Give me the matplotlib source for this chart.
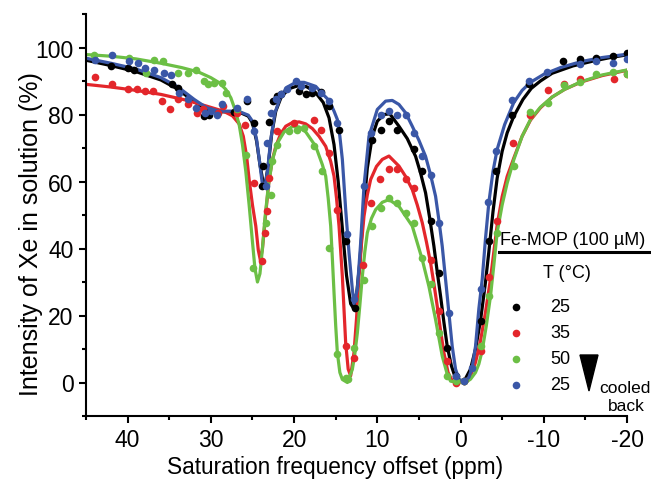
import numpy as np
import matplotlib
matplotlib.use('Agg')
import matplotlib.pyplot as plt
from matplotlib.lines import Line2D
from matplotlib.patches import Polygon

plt.rcParams['font.family'] = ['Liberation Sans', 'DejaVu Sans']
plt.rcParams['axes.unicode_minus'] = False

# ---- fitted curves (ppm, %) ----
black_fit_x = [45, 42, 39, 36, 34, 32, 30.5, 29, 27.5, 26.5, 25.5, 25, 24.5, 24.1, 23.7, 23.4, 23.1,
               22.7, 22.2, 21.5, 20.5, 19.5, 18.5, 17.5, 16.5, 15.8, 15.2, 14.7, 14.2, 13.7, 13.2,
               12.9, 12.5, 12.1, 11.7, 11.2, 10.6, 10, 9.2, 8.5, 7.4, 6.4, 5.4, 4.8, 4.2, 3.7, 3.2,
               2.8, 2.4, 2.0, 1.6, 1.1, 0.6, 0, -0.6, -1.2, -1.8, -2.4, -3.0, -3.4, -3.9, -4.4,
               -5.0, -5.6, -6.4, -7.5, -8.5, -9.6, -11, -13.5, -16, -18, -20]
black_fit_y = [96.2, 94.6, 92.8, 90.3, 87.6, 83.8, 81.5, 80.8, 80.8, 80.6, 79.5, 77.5, 72, 65, 59.5, 60, 65,
               74, 81, 85.5, 87.8, 88.6, 88.3, 86.8, 83.6, 79, 71, 60, 46, 32, 23.5,
               22.3, 26, 36, 50, 64, 73.5, 78, 80, 80.2, 76.5, 72.8, 67.5, 62.5, 56.6, 49, 40.7,
               33, 25.8, 18, 10.8, 5, 1.2, 0, 1.2, 4, 10, 18.5, 30, 39, 51, 61,
               69, 74.5, 79.5, 84.5, 87.8, 90, 92.3, 94.5, 96, 97, 97.8]

red_fit_x = [45, 42, 39, 36, 33, 30.5, 28.5, 27.4, 26.6, 26.1, 25.7, 25.4, 25.0, 24.6, 24.3, 24.05,
             23.8, 23.4, 23.0, 22.6, 22.2, 21.6, 21.0, 20.2, 19.4, 18.6, 17.8, 17.0, 16.2, 15.6,
             15.2, 14.9, 14.6, 14.2, 13.8, 13.5, 13.2, 12.8, 12.5, 12.2, 11.9, 11.6, 11.2, 10.8,
             10.1, 9.4, 8.6, 7.4, 6.6, 5.8, 5.2, 4.6, 4.1, 3.6, 3.2, 2.8, 2.4, 2.0, 1.5, 1.0, 0.2,
             -0.6, -1.2, -1.8, -2.4, -3.0, -3.6, -4.0, -4.4, -5.0, -5.6, -6.4, -7.4, -8.4, -9.6,
             -11, -12.5, -14.5, -17, -20]
red_fit_y = [89, 88.2, 87.2, 86, 84.3, 82.5, 81, 79.6, 77.2, 73.5, 67.5, 60.6, 53, 46.7, 39.5, 36.5,
             40, 50.6, 60.6, 66.5, 70.5, 74.3, 76.5, 77.6, 77.8, 77.2, 75.8, 73.5, 70.5, 66,
             61.6, 55, 46.7, 31.7, 11.8, 4, 2, 8.9, 19, 31.7, 41.5, 49.6, 56, 60.6,
             64.5, 66.6, 67.6, 64.6, 61.5, 57.6, 53, 47.7, 42, 35.7, 29.5, 22.8, 15.5, 8.9, 3, 0.5, 0,
             0.2, 2, 6, 12.5, 21, 31, 39, 47, 55.5, 61.5, 67, 73.5, 78.3, 82,
             85.2, 87.5, 89.7, 91.6, 93.2]

green_fit_x = [45, 42, 39, 36, 33.5, 31.5, 30, 29, 28.2, 27.6, 27.1, 26.6, 26.2, 25.8, 25.4, 25.0,
               24.7, 24.4, 24.1, 23.8, 23.5, 23.1, 22.6, 22.0, 21.2, 20.2, 19.4, 18.6, 17.4, 16.6,
               16.2, 15.9, 15.6, 15.4, 15.2, 15.0, 14.8, 14.5, 14.2, 13.6, 13.0, 12.7, 12.4, 12.1,
               11.8, 11.5, 11.2, 10.7, 10.2, 9.4, 8.6, 7.4, 5.8, 4.6, 3.8, 3.0, 2.2, 1.6, 1.2, 0.3,
               -0.6, -1.2, -1.8, -2.2, -2.6, -3.1, -3.6, -4.0, -4.4, -5.0, -5.6, -6.4, -7.4, -8.4,
               -9.6, -11, -12.5, -14.5, -17, -20]
green_fit_y = [97.9, 97.4, 96.6, 95.3, 94, 92.7, 91, 89.5, 87.5, 85, 81.5, 77, 71, 63, 53, 42,
               34, 30, 32.5, 40, 49, 58.5, 66.5, 71.5, 74.8, 76.4, 76.3, 74.8, 70.5, 65,
               61.6, 55, 46.7, 37, 26.8, 17, 8.9, 3, 0.9, 0, 3.9, 8.5, 14.8, 23,
               31.7, 39, 44.7, 49, 51.6, 53.8, 54.6, 52.6, 46.7, 36.7, 28.7, 18.8, 7.9, 2.5, 0.4, 0,
               0, 1, 3, 5.5, 9.5, 17, 25.8, 35, 44.8, 53, 59.5, 66.5, 73.5, 78.5,
               82.2, 85.2, 87.5, 89.8, 91.8, 93.3]

blue_fit_x = [45, 42, 39, 36, 34, 32, 30.5, 29, 27.5, 26.5, 25.5, 25, 24.5, 24.1, 23.8, 23.5, 23.2,
              22.8, 22.3, 21.6, 20.8, 19.8, 18.8, 17.4, 16.6, 15.8, 15.2, 14.8, 14.5, 14.2, 13.8,
              13.4, 13.0, 12.8, 12.4, 12.0, 11.6, 11.0, 10.0, 9.0, 8.2, 7.4, 6.6, 5.8, 5.0, 4.2,
              3.6, 3.0, 2.6, 2.2, 1.6, 1.0, 0.6, 0.2, -0.4, -1.0, -1.4, -1.8, -2.2, -2.6, -3.0,
              -3.4, -3.9, -4.4, -5.3, -6.4, -7.4, -8.4, -10, -12, -14.5, -17, -20]
blue_fit_y = [96.8, 95.3, 93.6, 91, 88.3, 84.5, 82, 81, 81, 80.8, 79.8, 78, 72.5, 65, 59, 58.5, 63,
              72.5, 80.5, 85.5, 88.2, 89.6, 89.6, 88.4, 86.2, 84.2, 81, 78.5, 73.5, 66.6, 51.6,
              38.7, 27.8, 23.5, 27.8, 41.7, 58.6, 73.5, 81.5, 84, 84.2, 83, 80.5, 76.5, 72.3, 67.5,
              62, 55.6, 48.5, 40.7, 25.8, 10.8, 4, 1, 0.2, 1.5, 4.5, 10.8, 22, 30.7, 43,
              53.7, 63, 69.6, 77, 83.6, 87.2, 89.6, 92, 94, 95.8, 97, 98]

# ---- measured points ----
black_pts_x = [42.0, 39.9, 39.2, 34.7, 33.9, 30.8, 30.2, 27.2, 25.7, 24.8, 23.7, 23.8, 23.0, 22.5, 22.0,
               21.6, 19.4, 18.6, 17.8, 16.8, 15.8, 14.6, 13.8, 12.7, 10.6, 9.6, 8.6, 7.6, 5.6, 4.6,
               3.6, 2.6, 1.6, 0.6, -0.4, -2.4, -3.4, -4.3, -6.2, -8.2, -12.3, -14.3, -16.3, -18.3, -20]
black_pts_y = [94.4, 93.9, 93.4, 89.2, 88.0, 79.5, 80.0, 80.6, 84.0, 77.5, 64.7, 58.8, 77.7, 84, 85.5,
               86, 87, 86, 86.5, 86.7, 82.5, 75.5, 42.2, 22.3, 72.5, 75.5, 78, 75.5, 69.6, 63,
               48.2, 32.7, 10.4, 1.9, 0.4, 18.3, 42.2, 63, 79.8, 89.1, 96, 96.5, 97, 97.5, 98.5]

red_pts_x = [43.9, 41.9, 39.9, 38.9, 37.9, 36.9, 35.9, 34.9, 33.9, 32.7, 31.7, 30.9, 29.1, 28.5, 26.9,
             25.9, 24.8, 23.8, 23.5, 23.2, 23.0, 22.0, 20.0, 17.6, 16.8, 15.8, 14.8, 13.8, 12.8, 11.7,
             10.7, 9.7, 8.6, 7.6, 6.6, 5.6, 3.6, 2.6, 1.6, 0.6, -0.4, -2.4, -3.4, -4.4, -6.3, -8.4,
             -10.5, -12.4, -14.4, -18.4, -20]
red_pts_y = [91.2, 89, 87.5, 87.5, 87, 87, 84, 81.5, 84.5, 83, 80.5, 81.5, 80.5, 82.5, 80.5,
             77, 59.6, 36.2, 44.7, 51.1, 61.1, 75, 77.5, 78.5, 75.5, 68.5, 51.6, 10.8, 7.4, 35,
             53.6, 60.6, 63.6, 63.6, 60.6, 58.1, 36.7, 21.3, 6.4, 0, 0.3, 9.3, 31.5, 48.2, 71.4, 80,
             87.2, 89, 90.5, 90.6, 92.1]

green_pts_x = [44.0, 39.8, 37.8, 36.8, 35.8, 34.0, 32.8, 31.8, 30.8, 30.3, 29.6, 28.6, 28.2, 26.8, 25.8,
               24.9, 23.4, 22.8, 22.6, 22.0, 20.6, 19.6, 18.8, 17.6, 16.6, 15.8, 14.8, 13.8, 13.5,
               12.8, 11.6, 10.6, 9.6, 8.6, 7.6, 6.6, 5.6, 4.6, 3.6, 2.6, 1.6, 0.6, -0.4, -2.4, -3.4,
               -4.4, -6.4, -8.3, -10.5, -12.4, -14.3, -16.3, -18.3, -20]
green_pts_y = [97.9, 96.9, 92.4, 96.4, 95.9, 92.4, 92.4, 93.4, 90, 89, 89.5, 89.4, 86.5, 81.5, 68,
               34.2, 47.5, 56.1, 66, 71, 75, 75.5, 76, 70.5, 63, 40.2, 8.4, 1.4, 1,
               10.4, 30.7, 46.7, 52.1, 55.1, 53.6, 50.6, 47.7, 37.2, 29.3, 14.8, 1.9, 0.5, 0.4, 10.8, 25.8,
               44.7, 64.6, 80.7, 83.4, 88.7, 89.6, 92.1, 92.6, 92.1]

blue_pts_x = [43.9, 41.9, 39.8, 38.8, 37.9, 36.8, 35.6, 34.8, 33.8, 32.8, 31.8, 30.7, 30.0, 29.3, 28.6,
              26.8, 25.7, 24.8, 23.4, 23.2, 22.8, 22.2, 21.6, 20.8, 19.8, 19.2, 17.8, 16.8, 15.8, 14.8,
              13.7, 12.8, 11.6, 10.8, 9.6, 8.6, 7.6, 6.6, 5.6, 4.6, 3.6, 2.6, 1.4, 0.6, -0.4, -1.4,
              -2.4, -3.3, -4.3, -6.2, -8.2, -10.4, -14.3, -16.3, -18.3, -20]
blue_pts_y = [96.4, 97.9, 95.9, 95.4, 93.9, 93.4, 92.4, 91.9, 86.5, 84.5, 82, 80.5, 81, 80, 83,
              82, 84.5, 75, 58.6, 71.5, 80.5, 84.5, 86, 87.5, 90, 88.5, 88, 86.5, 84, 77.5,
              44.2, 24.8, 58.6, 74.5, 80, 81, 80, 80, 74.5, 67.5, 62, 47.7, 20.8, 1.9, 0.4, 4.4,
              28, 54, 69, 84.2, 90.1, 92.6, 95, 96, 95.5, 96.5]

temps = ['25', '35', '50', '25']
colors = ['#000000', '#e3262b', '#6cbf45', '#3a57a7']

fits = [(black_fit_x, black_fit_y), (red_fit_x, red_fit_y),
        (green_fit_x, green_fit_y), (blue_fit_x, blue_fit_y)]
pts = [(black_pts_x, black_pts_y), (red_pts_x, red_pts_y),
       (green_pts_x, green_pts_y), (blue_pts_x, blue_pts_y)]

W, H = 651, 481
fig = plt.figure(figsize=(W / 100, H / 100), dpi=100)
ax = fig.add_axes([86 / W, 1 - 417 / H, 541 / W, 402 / H])

for (fx, fy), (px, py), c in zip(fits, pts, colors):
    ax.plot(fx, fy, '-', color=c, lw=2.3, solid_capstyle='round', zorder=2)
    ax.plot(px, py, 'o', color=c, ms=5.5, mec='none', zorder=3)

ax.set_xlim(45, -20)
ax.set_ylim(-10, 110)
ax.set_xticks([40, 30, 20, 10, 0, -10, -20])
ax.set_xticks(np.arange(45, -21, -5), minor=True)
ax.set_yticks([0, 20, 40, 60, 80, 100])
ax.set_yticks(np.arange(-10, 111, 10), minor=True)
ax.tick_params(which='major', direction='out', length=5, width=1.5, labelsize=16.5, pad=4)
ax.tick_params(which='minor', direction='out', length=3, width=1.5)
for s in ['top', 'right']:
    ax.spines[s].set_visible(False)
for s in ['left', 'bottom']:
    ax.spines[s].set_linewidth(1.5)

ax.set_xlabel('Saturation frequency offset (ppm)', fontsize=16.3)
ax.set_ylabel('Intensity of Xe in solution (%)', fontsize=18)
ax.xaxis.set_label_coords(0.46, -0.098)
ax.yaxis.set_label_coords(-0.080, 0.455)


# legend block, placed in pixel positions of the figure
def fp(x, y):
    return x / W, 1 - y / H


fig.text(*fp(573, 245), 'Fe-MOP (100 µM)', ha='center', va='baseline', fontsize=13)
fig.add_artist(Line2D([499 / W, 650 / W], [1 - 253 / H] * 2, color='k', lw=2.2,
                      transform=fig.transFigure))
fig.text(*fp(567, 278), 'T (°C)', ha='center', va='baseline', fontsize=13)
for i, (t, c) in enumerate(zip(temps, colors)):
    yy = [308, 334, 360, 386][i]
    fig.add_artist(Line2D([516 / W], [1 - yy / H], marker='o', ms=5.5, color=c, mec='none',
                          transform=fig.transFigure))
    fig.text(*fp(560, yy), t, ha='center', va='center', fontsize=13)
fig.add_artist(Polygon([fp(580, 356), fp(598, 356), fp(589, 392)], closed=True,
                       color='k', transform=fig.transFigure))
fig.text(*fp(625, 393), 'cooled', ha='center', va='baseline', fontsize=12.5)
fig.text(*fp(626, 411), 'back', ha='center', va='baseline', fontsize=12.5)

fig.savefig('out.png', dpi=100)
